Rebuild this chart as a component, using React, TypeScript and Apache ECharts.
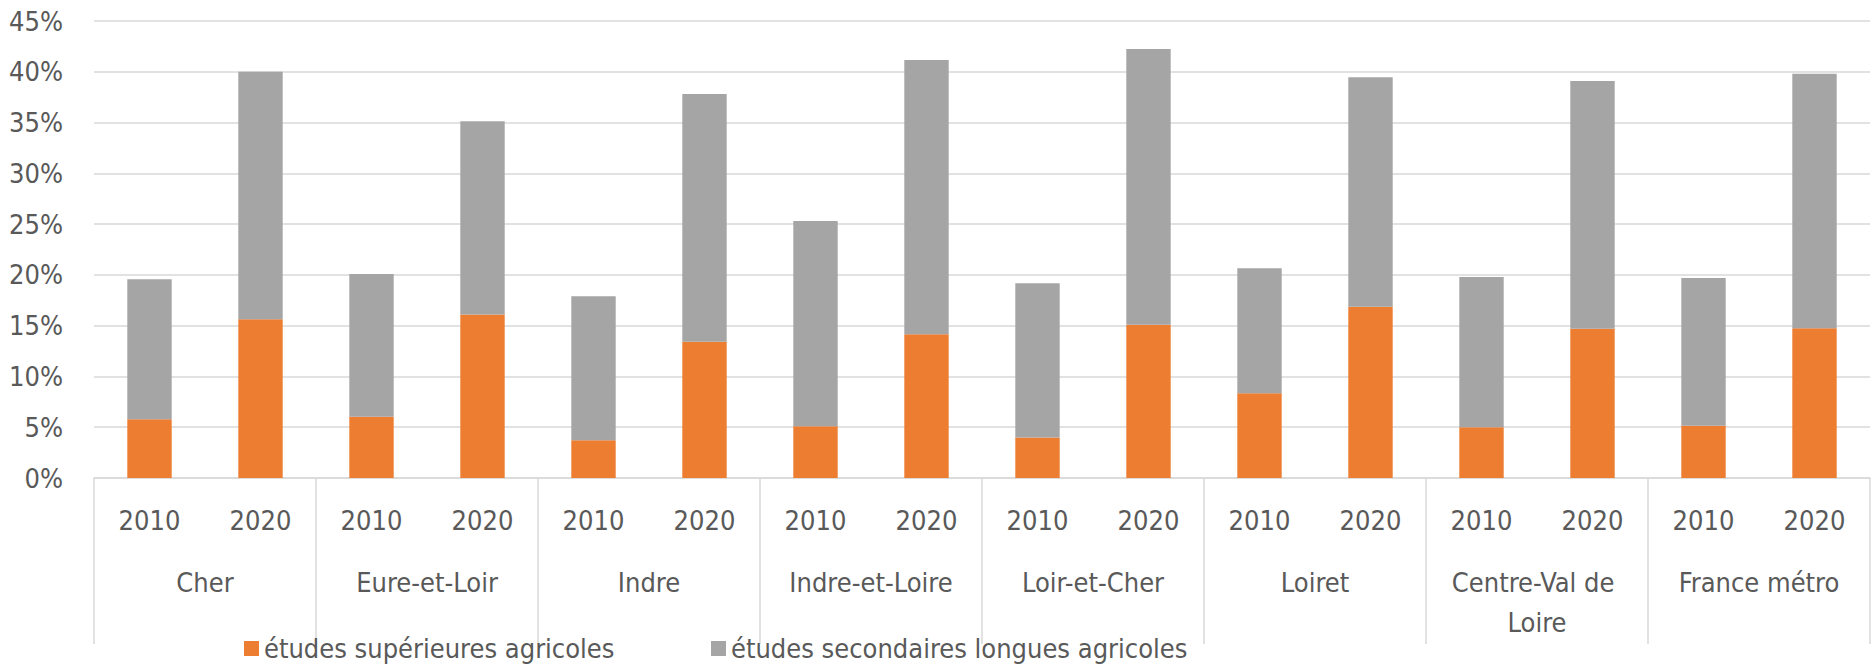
import React, { useEffect, useRef } from "react";
import * as echarts from "echarts";

const groups = [
  "Cher",
  "Eure-et-Loir",
  "Indre",
  "Indre-et-Loire",
  "Loir-et-Cher",
  "Loiret",
  "Centre-Val de Loire",
  "France métro",
];
const years = ["2010", "2020"];
const seriesNames = ["études supérieures agricoles", "études secondaires longues agricoles"];

// values in %
const superieures = [5.78, 15.62, 6.04, 16.11, 3.71, 13.42, 5.09, 14.15, 4.0, 15.1, 8.34, 16.87, 4.99, 14.7, 5.15, 14.74];
const secondaires = [13.78, 24.38, 14.05, 19.01, 14.18, 24.39, 20.22, 27.01, 15.17, 27.14, 12.31, 22.58, 14.8, 24.39, 14.54, 25.07];

const FONT = "'Liberation Sans Narrow', 'DejaVu Sans Condensed', sans-serif";
const TEXT = "#595959";
const GRID = "#D9D9D9";

export default function App() {
  const ref = useRef<HTMLDivElement>(null);
  useEffect(() => {
    if (!ref.current) return;
    const chart = echarts.init(ref.current, undefined, { renderer: "svg" });
    const yearCats: string[] = [];
    groups.forEach(() => years.forEach((y) => yearCats.push(y)));
    const legendText = { fontSize: 27, lineHeight: 27, color: TEXT, fontFamily: FONT };
    chart.setOption({
      animation: false,
      textStyle: { fontFamily: FONT },
      grid: { left: 94, right: 2, top: 21, bottom: 188, containLabel: false },
      legend: [
        {
          data: [seriesNames[0]],
          left: 239,
          top: 630,
          itemWidth: 15,
          itemHeight: 15,
          itemGap: 0,
          icon: "rect",
          textStyle: legendText,
        },
        {
          data: [seriesNames[1]],
          left: 706,
          top: 630,
          itemWidth: 15,
          itemHeight: 15,
          itemGap: 0,
          icon: "rect",
          textStyle: legendText,
        },
      ],
      xAxis: [
        {
          type: "category",
          data: yearCats,
          boundaryGap: true,
          axisLine: { show: true, lineStyle: { color: GRID, width: 1.5 } },
          axisTick: { show: false },
          axisLabel: {
            interval: 0,
            margin: 22,
            fontSize: 27,
            lineHeight: 40,
            color: TEXT,
            fontFamily: FONT,
          },
        },
        {
          type: "category",
          data: groups,
          position: "bottom",
          boundaryGap: true,
          axisLine: { show: false },
          axisTick: { show: true, interval: 0, length: 166, lineStyle: { color: GRID, width: 1.5 } },
          axisLabel: {
            interval: 0,
            margin: 84,
            fontSize: 27,
            lineHeight: 40,
            color: TEXT,
            fontFamily: FONT,
            width: 200,
            overflow: "break",
            align: "center",
          },
        },
      ],
      yAxis: {
        type: "value",
        min: 0,
        max: 45,
        interval: 5,
        axisLine: { show: false },
        axisTick: { show: false },
        splitLine: { lineStyle: { color: GRID, width: 1.5 } },
        axisLabel: {
          formatter: "{value}%",
          margin: 31,
          fontSize: 27,
          color: TEXT,
          fontFamily: FONT,
        },
      },
      series: [
        {
          name: seriesNames[0],
          type: "bar",
          stack: "total",
          xAxisIndex: 0,
          data: superieures,
          barWidth: "40%",
          itemStyle: { color: "#ED7D31" },
        },
        {
          name: seriesNames[1],
          type: "bar",
          stack: "total",
          xAxisIndex: 0,
          data: secondaires,
          barWidth: "40%",
          itemStyle: { color: "#A5A5A5" },
        },
      ],
    });
    return () => chart.dispose();
  }, []);
  return (
    <div
      ref={ref}
      style={{ position: "fixed", left: 0, top: 0, width: 1872, height: 666, background: "#fff" }}
    />
  );
}
